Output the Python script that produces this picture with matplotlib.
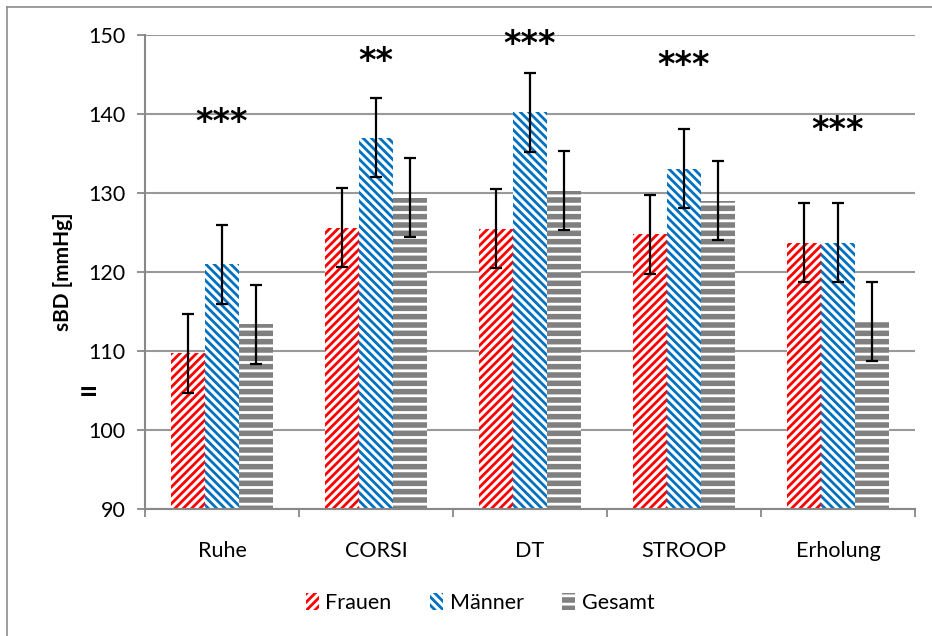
import matplotlib
matplotlib.use("Agg")
import matplotlib.pyplot as plt
from matplotlib.lines import Line2D
import numpy as np

# Systolic blood pressure per phase and group
phases = ["Ruhe", "CORSI", "DT", "STROOP", "Erholung"]
frauen = [109.7, 125.6, 125.5, 124.8, 123.7]
maenner = [121.0, 137.0, 140.2, 133.1, 123.7]
gesamt = [113.4, 129.4, 130.3, 129.0, 113.7]
err_frauen = [5, 5, 5, 5, 5]
err_maenner = [5, 5, 5, 5, 5]
err_gesamt = [5, 5, 5, 5, 5]
signif = ["***", "**", "***", "***", "***"]
signif_y = [138.9, 146.6, 148.8, 146.2, 137.9]
series_names = ["Frauen", "Männer", "Gesamt"]
y_ticks = [90, 100, 110, 120, 130, 140, 150]

FONT = ["Lato", "DejaVu Sans"]
plt.rcParams["font.family"] = FONT
plt.rcParams["hatch.linewidth"] = 2.0

fig = plt.figure(figsize=(9.32, 6.36), dpi=100)
ax = fig.add_axes([145 / 932, 1 - 509 / 636, (915 - 145) / 932, (509 - 35) / 636])

x = np.arange(len(phases)) + 0.5
w = 0.22
red, blue, grey = "#FF0000", "#0070C0", "#808080"

eb = dict(ecolor="black", elinewidth=1.6, capsize=4.5, capthick=1.6)
b1 = ax.bar(x - w, frauen, w, color="white", edgecolor=red,
            hatch="////", linewidth=0, yerr=err_frauen, error_kw=eb,
            label=series_names[0], zorder=2)
b2 = ax.bar(x, maenner, w, color="white", edgecolor=blue,
            hatch="\\\\\\\\", linewidth=0, yerr=err_maenner, error_kw=eb,
            label=series_names[1], zorder=2)
b3 = ax.bar(x + w, gesamt, w, color=grey, edgecolor="white",
            hatch="--", linewidth=0, yerr=err_gesamt, error_kw=eb,
            label=series_names[2], zorder=2)

for xi, s, ys in zip(x, signif, signif_y):
    ax.text(xi, ys, s, ha="center", va="center", fontsize=24,
            fontweight="bold", family=["DejaVu Sans"], zorder=4)

ax.set_xlim(0, 5)
ax.set_ylim(90, 150)
ax.set_yticks(y_ticks)
ax.set_yticklabels([str(t) for t in y_ticks], fontsize=15.5)
ax.yaxis.grid(True, color="#999999", linewidth=1.5, zorder=0)
ax.set_axisbelow(True)

ax.set_xticks(np.arange(0, 6))
ax.set_xticklabels([])
ax.set_xticks(x, minor=True)
ax.set_xticklabels(phases, minor=True, fontsize=15.5)
ax.tick_params(axis="x", which="minor", length=0, pad=23)
ax.tick_params(axis="x", which="major", length=6, color="#888888", width=1.3)
ax.tick_params(axis="y", length=6, color="#888888", width=1.3, pad=8)

for side in ("top", "right"):
    ax.spines[side].set_visible(False)
for side in ("left", "bottom"):
    ax.spines[side].set_color("#888888")
    ax.spines[side].set_linewidth(1.5)

ax.set_ylabel("sBD [mmHg]", fontsize=15, fontweight="bold", labelpad=11)
fig.text(88 / 932, 1 - 393 / 636, "=", fontsize=24, fontweight="bold",
         ha="center", va="center")

leg = ax.legend(handles=[b1, b2, b3], loc="center",
                bbox_to_anchor=(480 / 932, 1 - 603 / 636),
                bbox_transform=fig.transFigure, ncol=3, frameon=False,
                fontsize=15.5, handlelength=0.6, handleheight=0.8,
                handletextpad=0.3, columnspacing=1.8)

# outer chart frame (top and left edges)
fig.add_artist(Line2D([7 / 932, 7 / 932], [0, 1 - 7 / 636], color="#8c8c8c",
                      linewidth=1.2, transform=fig.transFigure))
fig.add_artist(Line2D([7 / 932, 1], [1 - 7 / 636, 1 - 7 / 636], color="#8c8c8c",
                      linewidth=1.2, transform=fig.transFigure))

fig.savefig("out.png", dpi=100)
